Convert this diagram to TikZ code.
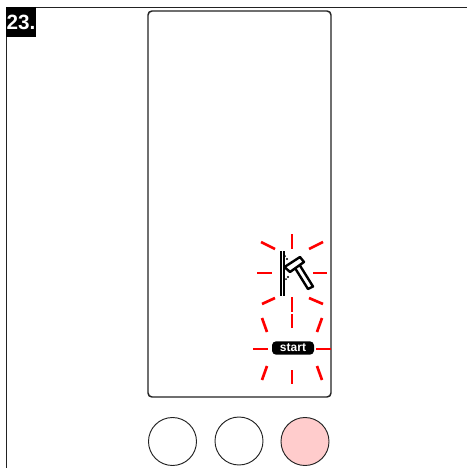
\documentclass[tikz,border=0pt]{standalone}
\usepackage{fontspec}
\setmainfont{Liberation Sans}
\usepackage{tikz}
\usetikzlibrary{positioning}
\definecolor{panelgrey}{HTML}{222222}
\definecolor{flashred}{HTML}{FF0000}
\definecolor{lampred}{HTML}{FFCCCC}
\tikzset{
  frameline/.style={draw=panelgrey, line width=0.7pt},
  panel/.style={
    rounded corners=3pt,
    draw=panelgrey,
    line width=1.1pt
  },
  lamp/.style={
    circle,
    draw=panelgrey,
    line width=0.7pt,
    minimum size=36pt,
    inner sep=0pt
  },
  stepbadge/.style={
    fill=black,
    text=white,
    font=\bfseries\fontsize{15.5}{15.5}\selectfont,
    minimum width=22.5pt,
    minimum height=22.5pt,
    inner sep=0pt
  },
  startpill/.style={
    rounded corners=3pt,
    fill=black,
    text=white,
    font=\bfseries\fontsize{9}{9}\selectfont,
    minimum width=31.5pt,
    minimum height=10pt,
    inner sep=0pt
  },
  flash/.style={
    draw=flashred,
    line width=2pt
  },
  hammerline/.style={
    line width=1.8pt,
    fill=white,
    line join=round
  }
}

\begin{document}
\begin{tikzpicture}[x=0.75pt,y=-0.75pt]
\useasboundingbox (0,0) rectangle (467,468);
% page frame
\coordinate (cornerleft) at (6,468);
\coordinate (cornertop) at (6,7);
\coordinate (cornerright) at (467,7);
\draw[frameline] (cornerleft) -- (cornertop) -- (cornerright);
\node[stepbadge] (badge) at (21,22) {23.};
% panel
\draw[panel] (148,11) rectangle (331,397);
% lamps
\node[lamp] (lampa) at (172.5,441.5) {};
\node[lamp] (lampb) at (239,441) {};
\node[lamp, fill=lampred] (lampc) at (305,441.5) {};
% hammer symbol
\draw[line width=1.5pt] (281,251) -- (281,296);
\draw[line width=1.5pt] (284,251) -- (284,296);
\draw[hammerline] (295,268) -- (308,289) -- (313,286.5) -- (299,264) -- cycle;
\draw[hammerline] (284.5,267) -- (300,257) -- (304,262) -- (290,272) -- cycle;
\fill (287,259) circle (1.2);
\fill (285,256) circle (1);
\fill (288,277) circle (1.2);
\fill (286,279) circle (1);
% flashes round the hammer
\foreach \xa/\ya/\xb/\yb in {292/234/292/249, 292/297/292/312, 257/273/272/273, 313/273/327/273,
  261/242/275/249, 309/249/323/242, 262/304/275/298, 309/298/323/304} {
  \draw[flash] (\xa,\ya) -- (\xb,\yb);
}
% start button
\node[startpill] (start) at (293,348) {start};
\foreach \xa/\ya/\xb/\yb in {292/314/292/328, 292/370/292/384, 253/349/268/349, 316/349/331/349,
  262/318/267/332, 322/318/317/332, 267/366/262/380, 317/366/322/380} {
  \draw[flash] (\xa,\ya) -- (\xb,\yb);
}
\end{tikzpicture}
\end{document}
